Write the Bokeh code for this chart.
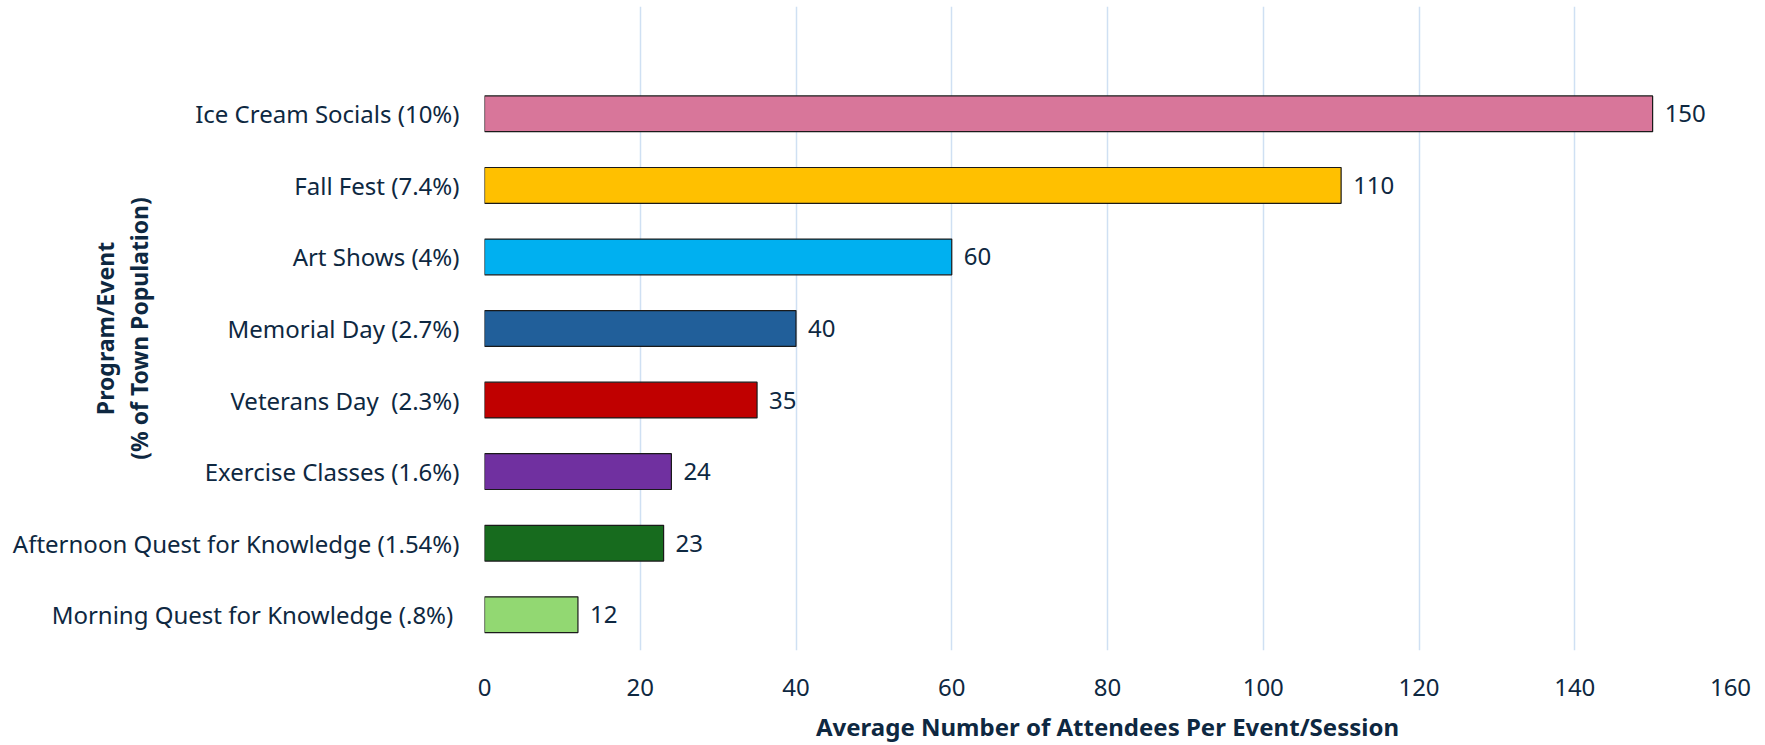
from bokeh.plotting import figure
from bokeh.models import ColumnDataSource, Range1d, FixedTicker, LabelSet
from bokeh.core.properties import value
from bokeh.embed import file_html
from bokeh.resources import INLINE

categories = [
    "Ice Cream Socials (10%)",
    "Fall Fest (7.4%)",
    "Art Shows (4%)",
    "Memorial Day (2.7%)",
    "Veterans Day  (2.3%)",
    "Exercise Classes (1.6%)",
    "Afternoon Quest for Knowledge (1.54%)",
    "Morning Quest for Knowledge (.8%) ",
]
attendees = [150, 110, 60, 40, 35, 24, 23, 12]
colors = ["#D8769A", "#FFC000", "#00B0F0", "#215F9A", "#C00000", "#7030A0", "#176B1E", "#92D872"]
x_ticks = [0, 20, 40, 60, 80, 100, 120, 140, 160]
x_title = "Average Number of Attendees Per Event/Session"
y_title = "Program/Event\n(% of Town Population)"

n = len(categories)
ypos = [n - 1 - i for i in range(n)]
src = ColumnDataSource(dict(y=ypos, v=attendees, c=colors, cat=categories,
                            lab=[str(a) for a in attendees]))

FONT = "Noto Sans"
TXT = "#0E2841"

p = figure(width=1765, height=745, output_backend="svg", toolbar_location=None,
           x_range=Range1d(0, 160), y_range=Range1d(-0.5, n + 0.5),
           min_border_left=484, min_border_right=35, min_border_top=6, min_border_bottom=87)
p.outline_line_color = None

p.hbar(y="y", right="v", left=0, height=0.5, fill_color="c", line_color="#1a1a1a",
       line_width=1.2, source=src)

labels = LabelSet(x="v", y="y", text="lab", source=src, x_offset=12,
                  text_baseline="middle", text_align="left",
                  text_font=value(FONT), text_font_size="24px", text_color=TXT)
p.add_layout(labels)

p.xaxis.ticker = FixedTicker(ticks=x_ticks)
p.xaxis.axis_line_color = None
p.xaxis.major_tick_line_color = None
p.xaxis.major_tick_out = 0
p.xaxis.minor_tick_line_color = None
p.xaxis.minor_tick_out = 0
p.xaxis.major_label_text_font = FONT
p.xaxis.major_label_text_font_size = "24px"
p.xaxis.major_label_text_color = TXT
p.xaxis.major_label_standoff = 28
p.xaxis.axis_label = x_title
p.xaxis.axis_label_text_font = FONT
p.xaxis.axis_label_text_font_size = "24px"
p.xaxis.axis_label_text_font_style = "bold"
p.xaxis.axis_label_text_color = TXT
p.xaxis.axis_label_standoff = 11

p.yaxis.ticker = FixedTicker(ticks=ypos)
p.yaxis.major_label_overrides = {yv: c.replace("  ", " \u00a0") for yv, c in zip(ypos, categories)}
p.yaxis.axis_line_color = None
p.yaxis.major_tick_line_color = None
p.yaxis.major_tick_out = 0
p.yaxis.minor_tick_line_color = None
p.yaxis.minor_tick_out = 0
p.yaxis.major_label_text_font = FONT
p.yaxis.major_label_text_font_size = "24px"
p.yaxis.major_label_text_color = TXT
p.yaxis.major_label_standoff = 25
p.yaxis.axis_label = y_title
p.yaxis.axis_label_text_font = FONT
p.yaxis.axis_label_text_font_size = "23px"
p.yaxis.axis_label_text_font_style = "bold"
p.yaxis.axis_label_text_color = TXT
p.yaxis.axis_label_text_align = "center"
p.yaxis.axis_label_text_line_height = 1.05
p.yaxis.axis_label_standoff = -145

p.ygrid.grid_line_color = None
p.xgrid.grid_line_color = "#CFE0F3"
p.xgrid.grid_line_width = 1.5

open("out.html", "w").write(file_html(p, INLINE))
